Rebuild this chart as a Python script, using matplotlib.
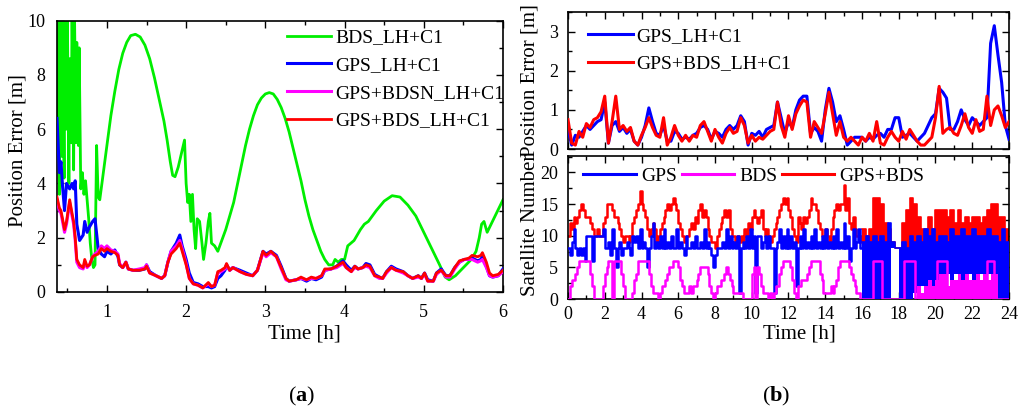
import matplotlib
matplotlib.use('Agg')
import matplotlib.pyplot as plt
import numpy as np
from matplotlib.ticker import MultipleLocator
from matplotlib.lines import Line2D

plt.rcParams['font.family'] = ['Liberation Serif', 'DejaVu Serif']
plt.rcParams['mathtext.fontset'] = 'custom'
plt.rcParams['mathtext.rm'] = 'Liberation Serif'
plt.rcParams['mathtext.bf'] = 'Liberation Serif:bold'

# ---------------- (a) left panel data ----------------
t_bds_a = [0.37, 0.38, 0.40, 0.41, 0.43, 0.44, 0.46, 0.47, 0.49, 0.50,
           0.52, 0.53, 0.55, 0.56, 0.58, 0.59, 0.61, 0.62, 0.64, 0.65,
           0.67, 0.69, 0.71, 0.73, 0.75, 0.77, 0.79, 0.81, 0.83, 0.85,
           0.87, 0.89, 0.91, 0.95, 1.00, 1.05, 1.10, 1.15, 1.20, 1.25,
           1.30, 1.36, 1.42, 1.48, 1.54, 1.60, 1.66, 1.72, 1.76, 1.80,
           1.83, 1.86, 1.90, 1.94, 1.98, 2.00, 2.02, 2.04, 2.06, 2.08,
           2.10, 2.12, 2.14, 2.17, 2.20, 2.22, 2.25, 2.28, 2.30, 2.32,
           2.36, 2.40, 2.45, 2.50, 2.55, 2.60, 2.65, 2.70, 2.75, 2.80,
           2.85, 2.90, 2.95, 3.00, 3.05, 3.10, 3.15, 3.20, 3.25, 3.30,
           3.35, 3.40, 3.45, 3.50, 3.55, 3.60, 3.65, 3.70, 3.75, 3.80,
           3.85, 3.88, 3.92, 3.96, 4.00, 4.04, 4.08, 4.12, 4.20, 4.25,
           4.30, 4.40, 4.50, 4.60, 4.70, 4.80, 4.90, 5.00, 5.10, 5.20,
           5.27, 5.32, 5.40, 5.50, 5.60, 5.66, 5.70, 5.73, 5.76, 5.78,
           5.80, 5.85, 5.90, 5.95, 6.00]
bds_a = [6.0, 10.5, 3.6, 10.5, 5.0, 10.5, 4.2, 10.5, 6.0, 10.5,
         4.0, 8.6, 5.5, 10.5, 4.5, 10.5, 5.5, 9.2, 5.4, 9.0,
         3.8, 4.4, 3.6, 4.1, 3.4, 2.7, 1.8, 1.2, 0.9, 1.0,
         5.4, 3.5, 3.4, 4.3, 5.4, 6.5, 7.4, 8.2, 8.8, 9.2,
         9.45, 9.5, 9.4, 9.1, 8.6, 7.9, 7.1, 6.3, 5.6, 4.8,
         4.3, 4.25, 4.6, 5.1, 5.6, 4.0, 3.3, 3.6, 2.6, 3.6,
         2.3, 1.6, 2.7, 2.6, 1.8, 1.2, 1.8, 2.6, 2.9, 1.8,
         1.7, 1.5, 1.9, 2.3, 2.8, 3.3, 4.0, 4.7, 5.4, 6.0,
         6.5, 6.9, 7.15, 7.3, 7.35, 7.3, 7.1, 6.8, 6.4, 5.9,
         5.3, 4.7, 4.1, 3.4, 2.8, 2.3, 1.9, 1.5, 1.2, 1.0,
         1.0, 1.2, 1.1, 1.2, 1.2, 1.7, 1.8, 1.9, 2.3, 2.5,
         2.6, 3.0, 3.35, 3.55, 3.5, 3.2, 2.8, 2.2, 1.6, 1.0,
         0.55, 0.45, 0.6, 0.9, 1.2, 1.5, 2.0, 2.5, 2.6, 2.4,
         2.2, 2.5, 2.8, 3.1, 3.4]

t_a = [0.37, 0.40, 0.42, 0.44, 0.465, 0.49, 0.53, 0.56, 0.58, 0.60,
       0.62, 0.655, 0.70, 0.72, 0.75, 0.78, 0.82, 0.85, 0.89, 0.93,
       0.97, 1.00, 1.05, 1.10, 1.14, 1.16, 1.20, 1.24, 1.27, 1.33,
       1.41, 1.48, 1.50, 1.54, 1.62, 1.69, 1.73, 1.77, 1.81, 1.875,
       1.92, 1.95, 2.00, 2.04, 2.09, 2.15, 2.21, 2.28, 2.32, 2.36,
       2.40, 2.44, 2.49, 2.51, 2.55, 2.59, 2.68, 2.76, 2.84, 2.90,
       2.97, 3.01, 3.07, 3.14, 3.20, 3.26, 3.30, 3.39, 3.45, 3.52,
       3.58, 3.64, 3.71, 3.75, 3.83, 3.90, 3.98, 4.02, 4.085, 4.13,
       4.17, 4.23, 4.27, 4.32, 4.38, 4.44, 4.48, 4.53, 4.59, 4.65,
       4.74, 4.80, 4.86, 4.93, 4.97, 5.01, 5.05, 5.12, 5.16, 5.22,
       5.28, 5.33, 5.39, 5.45, 5.51, 5.57, 5.61, 5.68, 5.72, 5.74,
       5.79, 5.83, 5.87, 5.94, 6.00]
gps_a = [6.4, 4.4, 4.8, 3.9, 3.0, 4.0, 3.8, 4.0, 3.8, 4.1,
         2.5, 1.9, 2.1, 2.6, 2.2, 2.4, 2.6, 2.7, 1.6, 1.4,
         1.3, 1.5, 1.4, 1.55, 1.3, 1.0, 0.9, 1.1, 0.85, 0.8,
         0.8, 0.85, 1.0, 0.75, 0.6, 0.5, 0.6, 1.1, 1.5, 1.8,
         2.1, 1.7, 1.2, 0.7, 0.35, 0.3, 0.2, 0.2, 0.15, 0.2,
         0.5, 0.6, 0.8, 1.0, 0.8, 0.9, 0.8, 0.7, 0.6, 0.8,
         1.5, 1.4, 1.5, 1.35, 0.95, 0.5, 0.4, 0.45, 0.5, 0.4,
         0.5, 0.45, 0.55, 0.8, 0.85, 0.95, 1.15, 1.0, 0.8, 0.95,
         0.85, 0.9, 1.05, 1.0, 0.65, 0.55, 0.5, 0.75, 0.95, 0.85,
         0.75, 0.6, 0.5, 0.6, 0.5, 0.7, 0.45, 0.4, 0.7, 0.85,
         0.6, 0.6, 0.9, 1.1, 1.2, 1.2, 1.25, 1.15, 1.2, 1.3,
         0.95, 0.6, 0.55, 0.6, 0.85]
gpsbdsn_a = [3.4, 3.0, 2.9, 2.6, 2.2, 2.5, 3.3, 2.8, 2.5, 1.9,
             1.1, 0.9, 0.85, 1.1, 0.9, 1.0, 1.3, 1.4, 1.5, 1.7,
             1.6, 1.7, 1.55, 1.5, 1.4, 1.05, 0.9, 1.1, 0.85, 0.8,
             0.85, 0.9, 1.0, 0.7, 0.6, 0.5, 0.6, 1.1, 1.5, 1.7,
             1.9, 1.6, 1.05, 0.5, 0.3, 0.25, 0.15, 0.3, 0.2, 0.25,
             0.7, 0.75, 0.85, 1.0, 0.8, 0.9, 0.75, 0.65, 0.6, 0.8,
             1.45, 1.3, 1.45, 1.3, 0.85, 0.45, 0.4, 0.45, 0.5, 0.45,
             0.5, 0.5, 0.6, 0.8, 0.85, 0.9, 1.05, 0.9, 0.75, 0.9,
             0.85, 0.9, 0.95, 0.9, 0.6, 0.5, 0.5, 0.7, 0.9, 0.8,
             0.7, 0.6, 0.5, 0.55, 0.5, 0.65, 0.4, 0.4, 0.65, 0.8,
             0.55, 0.55, 0.85, 1.1, 1.2, 1.2, 1.2, 1.1, 1.15, 1.2,
             0.9, 0.6, 0.55, 0.6, 0.75]
gpsbds_a = [3.5, 3.1, 3.0, 2.7, 2.3, 2.6, 3.4, 2.9, 2.6, 2.0,
            1.2, 1.0, 0.9, 1.2, 0.95, 1.0, 1.3, 1.35, 1.4, 1.6,
            1.5, 1.6, 1.5, 1.45, 1.35, 1.0, 0.9, 1.1, 0.85, 0.8,
            0.8, 0.85, 0.95, 0.7, 0.6, 0.5, 0.6, 1.1, 1.4, 1.6,
            1.8, 1.5, 1.0, 0.5, 0.3, 0.25, 0.15, 0.35, 0.2, 0.25,
            0.75, 0.8, 0.9, 1.05, 0.8, 0.9, 0.75, 0.65, 0.6, 0.8,
            1.5, 1.35, 1.5, 1.3, 0.9, 0.5, 0.4, 0.45, 0.55, 0.45,
            0.55, 0.5, 0.6, 0.85, 0.85, 0.95, 1.1, 0.9, 0.75, 0.95,
            0.85, 0.9, 1.0, 0.95, 0.6, 0.55, 0.5, 0.75, 0.9, 0.8,
            0.75, 0.6, 0.5, 0.6, 0.5, 0.7, 0.4, 0.4, 0.7, 0.8,
            0.6, 0.6, 0.9, 1.15, 1.2, 1.25, 1.35, 1.3, 1.35, 1.45,
            1.1, 0.7, 0.6, 0.65, 0.8]

# ---------------- (b) top: position error, every 0.2 h ----------------
t_pos = np.linspace(0, 24, 121)
gps_pos = [0.5, 0.1, 0.35, 0.3, 0.45, 0.6, 0.5, 0.6, 0.7, 0.75,
           1.2, 0.15, 0.6, 0.7, 0.45, 0.55, 0.4, 0.5, 0.2, 0.1,
           0.3, 0.6, 1.05, 0.7, 0.4, 0.35, 0.6, 0.2, 0.2, 0.45,
           0.4, 0.25, 0.3, 0.25, 0.35, 0.4, 0.55, 0.6, 0.5, 0.25,
           0.45, 0.4, 0.3, 0.5, 0.6, 0.5, 0.6, 0.85, 0.7, 0.1,
           0.4, 0.35, 0.45, 0.3, 0.5, 0.55, 0.6, 1.2, 0.8, 0.4,
           0.7, 0.55, 1.0, 1.25, 1.35, 1.35, 0.4, 0.55, 0.45, 0.2,
           1.0, 1.55, 1.2, 0.7, 0.85, 0.5, 0.1, 0.2, 0.3, 0.3,
           0.3, 0.2, 0.3, 0.25, 0.35, 0.4, 0.3, 0.5, 0.5, 0.8,
           0.8, 0.3, 0.35, 0.4, 0.3, 0.2, 0.3, 0.4, 0.6, 0.8,
           0.9, 1.55, 1.45, 1.3, 0.5, 0.5, 0.7, 1.0, 0.75, 0.6,
           0.8, 0.7, 0.6, 0.7, 0.8, 2.7, 3.15, 2.4, 1.7, 0.6,
           0.25]
gpsbds_pos = [0.75, 0.15, 0.1, 0.45, 0.3, 0.65, 0.55, 0.75, 0.8, 0.95,
              1.35, 0.15, 0.7, 1.35, 0.5, 0.6, 0.45, 0.55, 0.2, 0.1,
              0.35, 0.55, 0.8, 0.55, 0.35, 0.3, 0.8, 0.1, 0.3, 0.6,
              0.35, 0.2, 0.35, 0.2, 0.35, 0.3, 0.6, 0.7, 0.45, 0.2,
              0.5, 0.3, 0.15, 0.4, 0.55, 0.4, 0.45, 0.8, 0.6, 0.15,
              0.35, 0.2, 0.3, 0.25, 0.35, 0.45, 0.5, 1.2, 0.6, 0.3,
              0.85, 0.5, 0.9, 1.1, 1.25, 1.2, 0.3, 0.7, 0.55, 0.4,
              0.9, 1.45, 0.9, 0.35, 0.7, 0.3, 0.2, 0.3, 0.2, 0.1,
              0.3, 0.2, 0.4, 0.2, 0.7, 0.15, 0.1, 0.3, 0.45, 0.3,
              0.2, 0.45, 0.25, 0.5, 0.35, 0.2, 0.1, 0.1, 0.2, 0.3,
              0.8, 1.6, 0.4, 0.5, 0.55, 0.4, 0.35, 0.6, 0.9, 0.55,
              0.4, 0.75, 0.45, 0.5, 1.35, 0.6, 1.0, 1.1, 0.85, 0.55,
              0.7]

# ---------------- (b) bottom: satellite numbers ----------------
t_sat16 = np.linspace(0, 16, 161)
gps_sat = [8, 7, 9, 11, 8, 7, 8, 7, 8, 6,
           10, 10, 10, 6, 10, 10, 10, 10, 10, 11,
           8, 8, 9, 7, 11, 8, 5, 8, 9, 7,
           8, 8, 9, 8, 7, 10, 9, 10, 8, 11,
           8, 9, 8, 5, 8, 10, 12, 8, 9, 8,
           10, 8, 11, 8, 9, 8, 10, 8, 8, 11,
           8, 9, 8, 7, 10, 8, 8, 9, 8, 10,
           8, 8, 9, 8, 11, 8, 9, 8, 7, 5,
           7, 8, 8, 8, 9, 8, 11, 8, 10, 8,
           9, 8, 10, 1, 8, 9, 8, 10, 8, 11,
           8, 10, 1, 10, 10, 8, 9, 10, 8, 10,
           8, 8, 1, 8, 9, 11, 8, 10, 8, 11,
           8, 10, 8, 9, 2, 8, 10, 8, 11, 8,
           9, 8, 10, 8, 11, 8, 9, 8, 10, 8,
           11, 8, 9, 8, 10, 8, 11, 8, 9, 8,
           12, 8, 10, 6, 8, 11, 8, 9, 11, 8,
           8]
gpsbds_sat = [10, 12, 11, 13, 12, 13, 14, 15, 14, 13,
              13, 13, 12, 11, 10, 10, 11, 10, 10, 12,
              13, 15, 15, 15, 14, 13, 13, 12, 11, 10,
              9, 10, 10, 9, 10, 12, 13, 14, 15, 17,
              15, 14, 13, 11, 10, 11, 12, 11, 9, 10,
              11, 12, 13, 14, 15, 14, 15, 16, 15, 14,
              12, 11, 10, 9, 10, 10, 11, 12, 11, 13,
              12, 14, 15, 13, 14, 13, 11, 10, 9, 9,
              8, 10, 11, 12, 13, 14, 13, 14, 11, 10,
              10, 9, 10, 9, 10, 9, 11, 10, 12, 11,
              13, 14, 13, 12, 13, 14, 11, 10, 11, 10,
              9, 10, 11, 12, 13, 14, 15, 16, 15, 16,
              14, 13, 11, 10, 9, 13, 12, 11, 13, 12,
              13, 14, 16, 15, 15, 14, 12, 11, 10, 10,
              11, 10, 9, 11, 13, 14, 15, 14, 15, 15,
              18, 14, 16, 12, 11, 13, 11, 10, 10, 9,
              10]
t_sat24 = np.linspace(0, 24, 241)
bds_sat = [0, 2, 3, 3, 4, 5, 6, 6, 6, 6,
           6, 6, 4, 2, 0, 0, 0, 0, 0, 2,
           4, 5, 6, 6, 0, 6, 6, 6, 6, 4,
           2, 0, 0, 0, 0, 1, 3, 4, 6, 6,
           6, 6, 6, 6, 4, 2, 1, 1, 1, 0,
           1, 2, 2, 3, 4, 5, 5, 6, 6, 6,
           5, 3, 2, 1, 1, 1, 2, 1, 2, 2,
           3, 4, 5, 5, 5, 5, 4, 2, 1, 0,
           1, 2, 2, 3, 3, 4, 5, 4, 3, 2,
           1, 1, 1, 1, 1, 0, 0, 0, 0, 0,
           4, 5, 0, 5, 4, 2, 1, 1, 1, 0,
           1, 0, 1, 2, 2, 4, 5, 6, 6, 6,
           6, 5, 3, 1, 0, 2, 2, 3, 3, 3,
           4, 5, 6, 6, 6, 6, 6, 4, 3, 1,
           1, 1, 1, 2, 1, 2, 3, 5, 6, 6,
           6, 6, 6, 5, 4, 3, 2, 1, 1, 0,
           0, 0, 0, 0, 0, 0, 6, 6, 6, 6,
           6, 0, 0, 0, 0, 0, 0, 0, 0, 0,
           0, 0, 0, 6, 6, 6, 6, 6, 6, 0,
           0, 0, 0, 0, 0, 0, 0, 0, 0, 0,
           0, 6, 6, 6, 6, 6, 0, 0, 0, 0,
           0, 0, 0, 0, 0, 0, 0, 0, 0, 0,
           0, 0, 0, 0, 0, 0, 0, 0, 6, 6,
           6, 6, 0, 0, 0, 0, 0, 0, 0, 0,
           0]

# dense part (16-24 h): envelopes read every 0.2 h
t_dense = np.linspace(16, 24, 41)
gps_hi = [9, 10, 9, 10, 9, 10, 9, 12, 9, 8,
          8, 9, 8, 10, 9, 10, 9, 11, 10, 11,
          9, 10, 10, 9, 11, 10, 10, 11, 10, 10,
          11, 10, 10, 10, 11, 10, 10, 9, 11, 9,
          8]
gps_lo = [0, 0, 0, 0, 0, 0, 0, 0, 8, 8,
          0, 0, 0, 0, 1, 1, 2, 1, 2, 2,
          3, 3, 3, 4, 3, 4, 4, 3, 4, 4,
          3, 4, 4, 3, 4, 3, 2, 0, 0, 0,
          0]
gpsbds_hi = [11, 10, 11, 16, 16, 15, 12, 11, 9, 8,
             8, 12, 14, 16, 15, 13, 11, 11, 13, 11,
             14, 14, 14, 13, 14, 12, 14, 12, 13, 12,
             13, 13, 12, 13, 14, 15, 15, 13, 13, 11,
             9]
gpsbds_lo = [8, 8, 8, 8, 8, 8, 8, 8, 8, 8,
             8, 8, 8, 8, 8, 8, 8, 8, 8, 8,
             8, 8, 8, 8, 8, 8, 8, 8, 8, 8,
             8, 8, 8, 8, 8, 8, 8, 8, 8, 8,
             8]
bds_hi = [0, 0, 0, 0, 0, 0, 0, 0, 0, 0,
          0, 0, 0, 0, 0, 2, 1, 2, 3, 2,
          3, 4, 4, 2, 3, 3, 4, 3, 4, 3,
          3, 4, 3, 4, 3, 4, 4, 0, 0, 0,
          0]

C_GREEN = '#00ee00'
C_BLUE = '#0000ff'
C_MAG = '#ff00ff'
C_RED = '#ff0000'

fig = plt.figure(figsize=(10.19, 4.09), dpi=100)
axL = fig.add_axes([57 / 1019, 1 - 292 / 409, 446 / 1019, 271.3 / 409])
axT = fig.add_axes([568 / 1019, 1 - 149 / 409, 441 / 1019, 137 / 409])
axB = fig.add_axes([568 / 1019, 1 - 299 / 409, 441 / 1019, 143 / 409])

TICK_FS = 13
LAB_FS = 15
LEG_FS = 14


def style(ax, pad):
    ax.tick_params(which='both', direction='in', top=True, right=True,
                   labelsize=TICK_FS, width=1.0, pad=pad)
    ax.tick_params(which='major', length=5)
    ax.tick_params(which='minor', length=3)
    for s in ax.spines.values():
        s.set_linewidth(1.2)


# ---- (a)
axL.plot(t_bds_a, bds_a, color=C_GREEN, lw=2.0, label='BDS_LH+C1', zorder=2)
axL.plot(t_a, gps_a, color=C_BLUE, lw=2.2, label='GPS_LH+C1', zorder=3)
axL.plot(t_a, gpsbdsn_a, color=C_MAG, lw=2.2, label='GPS+BDSN_LH+C1', zorder=4)
axL.plot(t_a, gpsbds_a, color=C_RED, lw=2.0, label='GPS+BDS_LH+C1', zorder=5)
axL.set_xlim(0.37, 6)
axL.set_ylim(0, 10)
axL.xaxis.set_major_locator(MultipleLocator(1))
axL.xaxis.set_minor_locator(MultipleLocator(0.5))
axL.yaxis.set_major_locator(MultipleLocator(2))
axL.yaxis.set_minor_locator(MultipleLocator(1))
style(axL, 8.5)
axL.set_xlabel('Time [h]', fontsize=LAB_FS)
axL.set_ylabel('Position Error [m]', fontsize=LAB_FS)
axL.xaxis.set_label_coords(0.555, -0.12)
axL.yaxis.set_label_coords(-0.066, 0.52)
axL.legend(loc='upper left', bbox_to_anchor=(0.515, 0.97), frameon=False,
           fontsize=LEG_FS, handlelength=2.3, handletextpad=0.2,
           labelspacing=0.52, borderpad=0, borderaxespad=0)

# ---- (b) top
axT.plot(t_pos, gps_pos, color=C_BLUE, lw=2.2, label='GPS_LH+C1', zorder=3)
axT.plot(t_pos, gpsbds_pos, color=C_RED, lw=2.2, label='GPS+BDS_LH+C1', zorder=4)
axT.set_xlim(0, 24)
axT.set_ylim(0, 3.5)
axT.xaxis.set_major_locator(MultipleLocator(2))
axT.xaxis.set_minor_locator(MultipleLocator(1))
axT.yaxis.set_major_locator(MultipleLocator(1))
axT.yaxis.set_minor_locator(MultipleLocator(0.5))
style(axT, 7)
axT.tick_params(labelbottom=False)
axT.set_ylabel('Position Error [m]', fontsize=LAB_FS)
axT.yaxis.set_label_coords(-0.064, 0.5)
axT.legend(loc='upper left', bbox_to_anchor=(0.045, 0.89), frameon=False,
           fontsize=LEG_FS, handlelength=2.3, handletextpad=0.2,
           labelspacing=0.52, borderpad=0, borderaxespad=0)

# ---- (b) bottom
axB.step(t_sat16, gpsbds_sat, where='post', color=C_RED, lw=1.8, zorder=2)
axB.fill_between(t_dense, gpsbds_lo, gpsbds_hi, step='post', color=C_RED,
                 lw=0, zorder=2)
axB.step(t_dense, gpsbds_hi, where='post', color=C_RED, lw=1.2, zorder=2)
axB.step(t_sat16, gps_sat, where='post', color=C_BLUE, lw=1.8, zorder=3)
axB.fill_between(t_dense, gps_lo, gps_hi, step='post', color=C_BLUE,
                 lw=0, zorder=3)
axB.step(t_dense, gps_hi, where='post', color=C_BLUE, lw=1.2, zorder=3)
axB.fill_between(t_dense, 0, bds_hi, step='post', color=C_MAG, lw=0, zorder=4)
axB.step(t_sat24, bds_sat, where='post', color=C_MAG, lw=1.8, zorder=5)
axB.set_xlim(0, 24)
axB.set_ylim(0, 22.6)
axB.xaxis.set_major_locator(MultipleLocator(2))
axB.xaxis.set_minor_locator(MultipleLocator(1))
axB.yaxis.set_major_locator(MultipleLocator(5))
axB.yaxis.set_minor_locator(MultipleLocator(2.5))
style(axB, 7)
axB.tick_params(axis='x', pad=5)
axB.set_xlabel('Time [h]', fontsize=LAB_FS)
axB.xaxis.set_label_coords(0.524, -0.178)
axB.set_ylabel('Satellite Number', fontsize=LAB_FS)
axB.yaxis.set_label_coords(-0.064, 0.52)
handles = [Line2D([], [], color=C_BLUE, lw=2.2),
           Line2D([], [], color=C_MAG, lw=2.2),
           Line2D([], [], color=C_RED, lw=2.2)]
axB.legend(handles, ['GPS', 'BDS', 'GPS+BDS'], loc='upper left',
           bbox_to_anchor=(0.035, 0.92), ncol=3, frameon=False,
           fontsize=LEG_FS, handlelength=2.7, handletextpad=0.25,
           columnspacing=0.25, borderpad=0, borderaxespad=0)

fig.text(302 / 1019, 1 - 396 / 409, r'($\mathbf{a}$)', fontsize=16,
         ha='center', va='center')
fig.text(776 / 1019, 1 - 396 / 409, r'($\mathbf{b}$)', fontsize=16,
         ha='center', va='center')

fig.savefig('out.png', dpi=100)
